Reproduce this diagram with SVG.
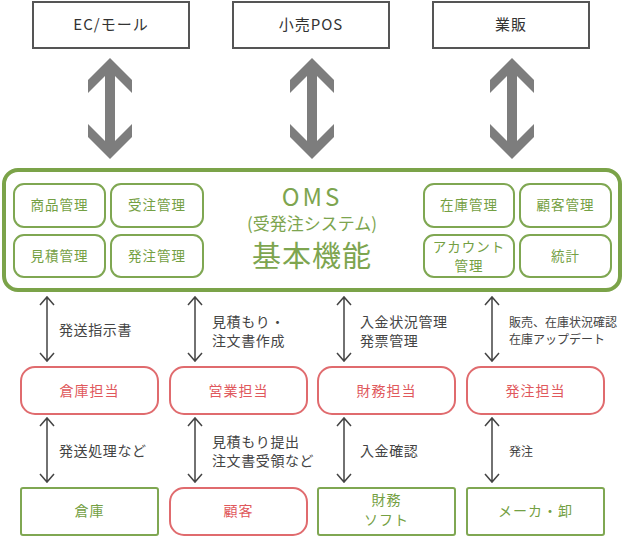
<svg xmlns="http://www.w3.org/2000/svg" width="625" height="538" viewBox="0 0 625 538">
<defs>
<style>
text{font-family:"Noto Sans CJK JP","Noto Sans",sans-serif;text-anchor:middle;}
.top{fill:#fff;stroke:#555;stroke-width:2;}
.toptx{font-size:15px;fill:#333;letter-spacing:1px;}
.fn{fill:#fff;stroke:#7fa752;stroke-width:2;}
.fntx{font-size:13.5px;fill:#74a043;letter-spacing:1px;}
.red{fill:#fff;stroke:#e06b6e;stroke-width:2;}
.redtx{font-size:14px;fill:#e0585c;letter-spacing:1px;}
.grn{fill:#fff;stroke:#7fa752;stroke-width:2;}
.grntx{font-size:14px;fill:#74a043;letter-spacing:1px;}
.big{fill:#7d7d7d;}
.ln{stroke:#444;stroke-width:1.5;fill:none;}
.lbl{font-size:14px;fill:#444;text-anchor:start;letter-spacing:0.6px;}
.sm{font-size:12px;letter-spacing:0;}
</style>
<polygon id="bigArrow" class="big" points="0,58 22,80 22,93 5,76 5,141 22,124 22,137 0,159 -22,137 -22,124 -5,141 -5,76 -22,93 -22,80"/>
</defs>
<rect width="625" height="538" fill="#fff"/>

<g id="ec"><rect class="top" x="33" y="2" width="156" height="46"/><text class="toptx" x="111" y="30">EC/モール</text></g>
<g id="pos"><rect class="top" x="233" y="2" width="156" height="46"/><text class="toptx" x="311" y="30">小売POS</text></g>
<g id="gyohan"><rect class="top" x="433" y="2" width="156" height="46"/><text class="toptx" x="511" y="30">業販</text></g>

<g id="oms">
<rect x="4" y="170" width="616" height="120" rx="14" fill="#fff" stroke="#7ba349" stroke-width="4"/>
<text x="312" y="206" font-size="24" fill="#7da54f" letter-spacing="3">OMS</text>
<text x="312" y="230" font-size="17" fill="#7da54f">(受発注システム)</text>
<text x="312" y="267" font-size="29" fill="#7da54f" letter-spacing="1">基本機能</text>
</g>
<g id="f1"><rect class="fn" x="14" y="184" width="91" height="43" rx="10"/><text class="fntx" x="59.5" y="210">商品管理</text></g>
<g id="f2"><rect class="fn" x="111" y="184" width="92" height="43" rx="10"/><text class="fntx" x="157" y="210">受注管理</text></g>
<g id="f3"><rect class="fn" x="14" y="235" width="91" height="42" rx="10"/><text class="fntx" x="59.5" y="261">見積管理</text></g>
<g id="f4"><rect class="fn" x="111" y="235" width="92" height="42" rx="10"/><text class="fntx" x="157" y="261">発注管理</text></g>
<g id="f5"><rect class="fn" x="424" y="184" width="90" height="43" rx="10"/><text class="fntx" x="469" y="210">在庫管理</text></g>
<g id="f6"><rect class="fn" x="520" y="184" width="91" height="43" rx="10"/><text class="fntx" x="565.5" y="210">顧客管理</text></g>
<g id="f7"><rect class="fn" x="424" y="235" width="90" height="42" rx="10"/><text class="fntx" x="469" y="252" letter-spacing="0.5">アカウント</text><text class="fntx" x="469" y="271">管理</text></g>
<g id="f8"><rect class="fn" x="520" y="235" width="91" height="42" rx="10"/><text class="fntx" x="565.5" y="261">統計</text></g>

<g id="r1"><rect class="red" x="21" y="367" width="137" height="47" rx="14"/><text class="redtx" x="89.5" y="396">倉庫担当</text></g>
<g id="r2"><rect class="red" x="170" y="367" width="137" height="47" rx="14"/><text class="redtx" x="238.5" y="396">営業担当</text></g>
<g id="r3"><rect class="red" x="318" y="367" width="137" height="47" rx="14"/><text class="redtx" x="386.5" y="396">財務担当</text></g>
<g id="r4"><rect class="red" x="467" y="367" width="137" height="47" rx="14"/><text class="redtx" x="535.5" y="396">発注担当</text></g>

<g id="b1"><rect class="grn" x="21" y="488" width="137" height="47" rx="2"/><text class="grntx" x="89.5" y="516">倉庫</text></g>
<g id="b2"><rect class="red" x="170" y="488" width="137" height="47" rx="14"/><text class="redtx" x="238.5" y="516">顧客</text></g>
<g id="b3"><rect class="grn" x="318" y="488" width="137" height="47" rx="2"/><text class="grntx" x="386.5" y="505">財務</text><text class="grntx" x="386.5" y="525">ソフト</text></g>
<g id="b4"><rect class="grn" x="467" y="488" width="137" height="47" rx="2"/><text class="grntx" x="535.5" y="516">メーカ・卸</text></g>

<g id="connectors">
<use href="#bigArrow" x="110"/>
<use href="#bigArrow" x="312"/>
<use href="#bigArrow" x="512"/>
<path class="ln" d="M47,297V361M40,305L47,297L54,305M40,353L47,361L54,353"/>
<path class="ln" d="M195,297V361M188,305L195,297L202,305M188,353L195,361L202,353"/>
<path class="ln" d="M344,297V361M337,305L344,297L351,305M337,353L344,361L351,353"/>
<path class="ln" d="M492,297V361M485,305L492,297L499,305M485,353L492,361L499,353"/>
<path class="ln" d="M47,418V482M40,426L47,418L54,426M40,474L47,482L54,474"/>
<path class="ln" d="M195,418V482M188,426L195,418L202,426M188,474L195,482L202,474"/>
<path class="ln" d="M344,418V482M337,426L344,418L351,426M337,474L344,482L351,474"/>
<path class="ln" d="M492,418V482M485,426L492,418L499,426M485,474L492,482L499,474"/>
</g>

<g id="labels">
<text class="lbl" x="59" y="335">発送指示書</text>
<text class="lbl" x="212" y="327">見積もり・</text>
<text class="lbl" x="212" y="346">注文書作成</text>
<text class="lbl" x="360" y="327">入金状況管理</text>
<text class="lbl" x="360" y="346">発票管理</text>
<text class="lbl sm" x="509" y="327">販売、在庫状況確認</text>
<text class="lbl sm" x="509" y="344">在庫アップデート</text>
<text class="lbl" x="59" y="456">発送処理など</text>
<text class="lbl" x="212" y="447">見積もり提出</text>
<text class="lbl" x="212" y="466">注文書受領など</text>
<text class="lbl" x="360" y="456">入金確認</text>
<text class="lbl sm" x="509" y="456">発注</text>
</g>
</svg>
